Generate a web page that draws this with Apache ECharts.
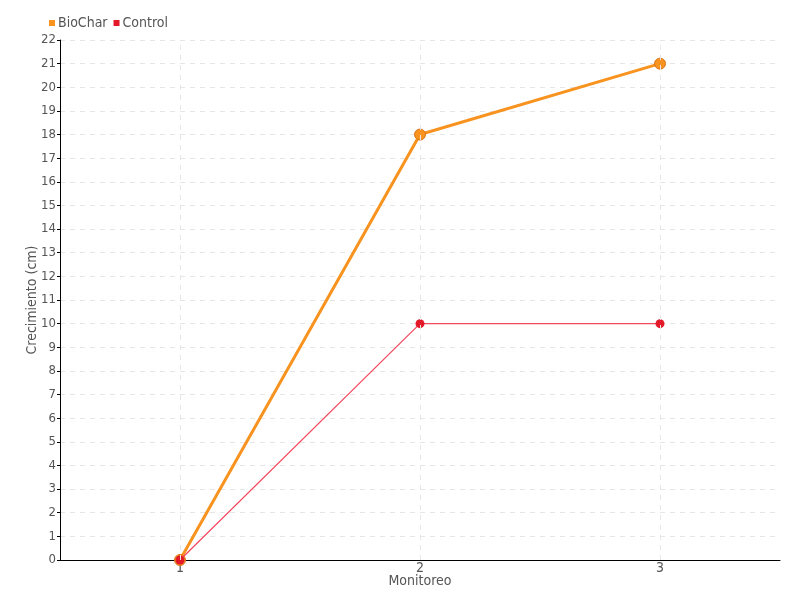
<!DOCTYPE html>
<html>
<head>
<meta charset="utf-8">
<script src="https://cdn.jsdelivr.net/npm/echarts@6/dist/echarts.min.js"></script>
<style>html,body{margin:0;padding:0;background:#fff}#c{width:800px;height:600px}</style>
</head>
<body>
<div id="c"></div>
<script>
const categories = ['1', '2', '3'];
const bioChar = [0, 18, 21];
const control = [0, 10, 10];
const seriesNames = ['BioChar', 'Control'];

const FONT = '"Liberation Sans Narrow", "DejaVu Sans Condensed", "Roboto", sans-serif';
const TXT = '#555';
const chart = echarts.init(document.getElementById('c'), null, {renderer: 'canvas'});
chart.setOption({
  animation: false,
  textStyle: {fontFamily: FONT, color: TXT},
  legend: {
    left: 44, top: 11, itemWidth: 6, itemHeight: 6, itemGap: 6,
    icon: 'rect',
    itemStyle: {borderWidth: 0},
    textStyle: {fontFamily: FONT, fontSize: 14, color: TXT, padding: [0, 0, 0, -2]},
    data: seriesNames
  },
  grid: {left: 60, right: 20, top: 40, bottom: 40, containLabel: false},
  xAxis: {
    type: 'category', data: categories, boundaryGap: true,
    name: 'Monitoreo', nameLocation: 'middle', nameGap: 14, nameMoveOverlap: false,
    nameTextStyle: {fontFamily: FONT, fontSize: 14, color: TXT},
    axisLine: {lineStyle: {color: '#000', width: 1}},
    axisTick: {alignWithLabel: true, length: 6, lineStyle: {color: '#333'}},
    axisLabel: {fontFamily: FONT, fontSize: 14, color: TXT, margin: 1},
    splitLine: {show: false}
  },
  yAxis: {
    type: 'value', min: 0, max: 22, interval: 1,
    name: 'Crecimiento (cm)', nameLocation: 'middle', nameGap: 21, nameMoveOverlap: false,
    nameTextStyle: {fontFamily: FONT, fontSize: 14, color: TXT},
    axisLine: {show: true, lineStyle: {color: '#000', width: 1}},
    axisTick: {show: true, length: 3, lineStyle: {color: '#000'}},
    axisLabel: {fontFamily: FONT, fontSize: 13, color: TXT, margin: 4},
    splitLine: {show: true, lineStyle: {color: '#e6e6e6', type: [5, 5], width: 1}}
  },
  series: [
    {
      name: seriesNames[0], type: 'line', data: bioChar,
      color: '#f7931e',
      lineStyle: {color: '#f7931e', width: 3},
      symbol: 'circle', symbolSize: 11,
      itemStyle: {color: '#f7931e', borderColor: '#d9741a', borderWidth: 1},
      markLine: {
        silent: true, symbol: 'none', label: {show: false},
        lineStyle: {color: '#e6e6e6', type: [5, 5], width: 1},
        data: categories.map(c => ({xAxis: c}))
      },
      z: 2
    },
    {
      name: seriesNames[1], type: 'line', data: control,
      color: '#ed1c24',
      lineStyle: {color: '#f4475d', width: 1.2},
      symbol: 'circle', symbolSize: 9,
      itemStyle: {color: '#e3192a', borderColor: '#e3192a', borderWidth: 0},
      z: 3
    }
  ]
});
</script>
</body>
</html>
